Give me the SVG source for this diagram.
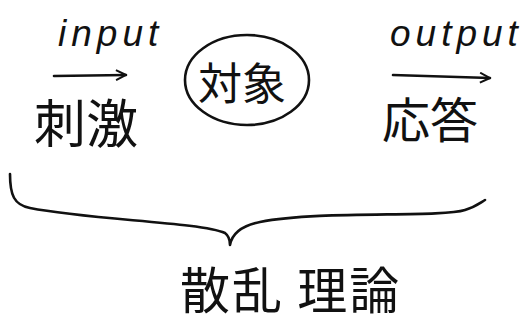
<svg xmlns="http://www.w3.org/2000/svg" width="522" height="323" viewBox="0 0 522 323">
<style>
.lat{font-family:"Liberation Sans","Noto Sans",sans-serif;font-size:37px;font-style:italic;fill:#111;letter-spacing:5px}
.cjk{font-family:"Noto Sans CJK JP","Noto Sans",sans-serif;fill:#111;font-weight:400}
.ln{fill:none;stroke:#111;stroke-width:2.6;stroke-linecap:round;stroke-linejoin:round}
</style>
<defs>
<marker id="ah" viewBox="0 0 12 12" refX="11" refY="6" markerWidth="12" markerHeight="12" markerUnits="userSpaceOnUse" orient="auto">
<path d="M1,1 L11,6 L1,11" fill="none" stroke="#111" stroke-width="2"/>
</marker>
</defs>
<rect width="522" height="323" fill="#fff"/>
<g id="input">
<text class="lat" x="58" y="46">input</text>
</g>
<g id="stimulus">
<text class="cjk" x="34" y="143" font-size="52">刺激</text>
</g>
<g id="object">
<ellipse class="ln" cx="247" cy="80" rx="62" ry="45"/>
<text class="cjk" x="198" y="100" font-size="44">対象</text>
</g>
<g id="output">
<text class="lat" x="390" y="46">output</text>
</g>
<g id="response">
<text class="cjk" x="382" y="138" font-size="48">応答</text>
</g>
<g id="theory">
<text class="cjk" x="180" y="309" font-size="50" letter-spacing="2">散乱 理論</text>
</g>
<g id="connectors">
<path class="ln" d="M54,76 L126,75" marker-end="url(#ah)"/>
<path class="ln" d="M393,75 L490,78" marker-end="url(#ah)"/>
<path class="ln" d="M10,174 C10,195 14,205 30,208 C90,220 200,222 225,233 C229,236 230,240 230,245 C232,234 240,226 260,222 C320,210 440,218 465,210 C475,207 480,203 485,200"/>
</g>
</svg>
